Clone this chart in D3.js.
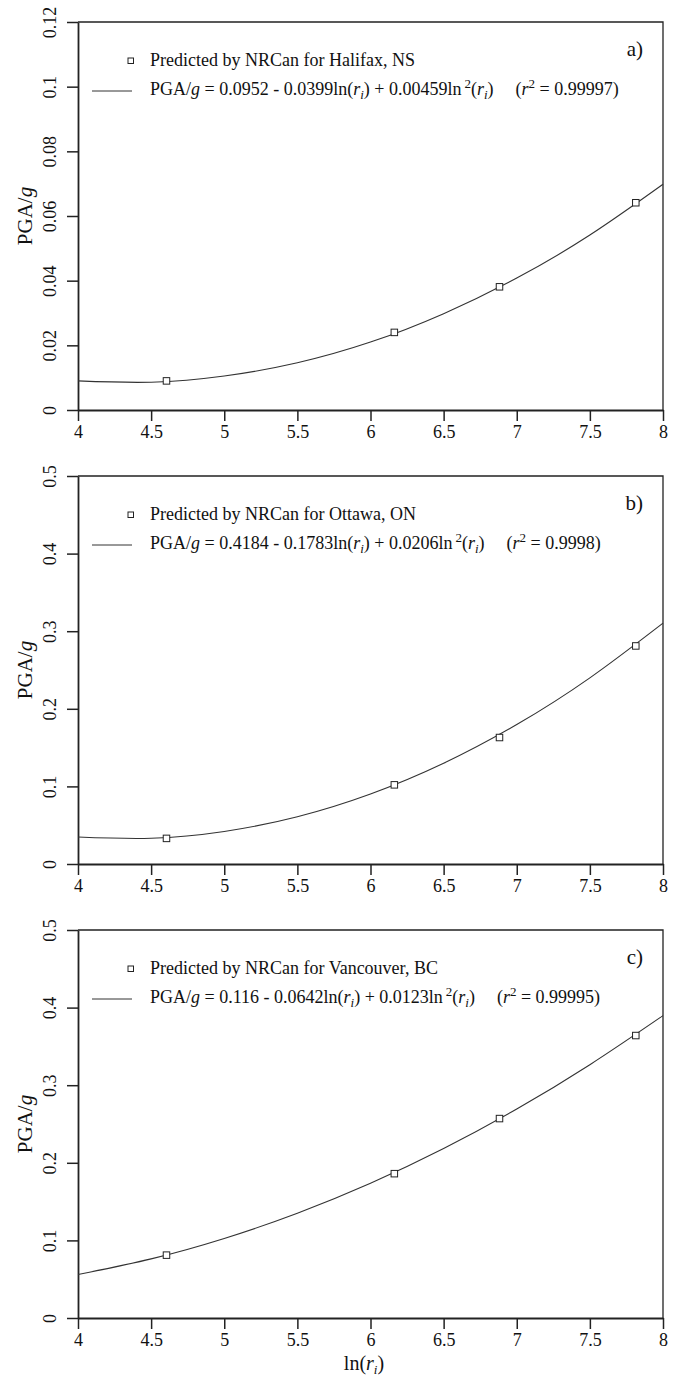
<!DOCTYPE html>
<html>
<head>
<meta charset="utf-8">
<script src="https://cdn.jsdelivr.net/npm/d3@7"></script>
<style>
  html, body { margin: 0; padding: 0; background: #fff; }
  svg text { font-family: "Liberation Serif", "Times New Roman", serif; fill: #111; }
</style>
</head>
<body>
<div id="chart"></div>
<script>
// ---- data ----
const lnR = [4.605, 6.163, 6.882, 7.814];
const pgaHalifax   = [0.0090, 0.0240, 0.0381, 0.0641];
const pgaOttawa    = [0.0330, 0.1020, 0.1630, 0.2810];
const pgaVancouver = [0.0810, 0.1860, 0.2570, 0.3640];

// fitted curves
const curveX = [4, 4.5, 5, 5.5, 6, 6.5, 7, 7.5, 8];
const fitHalifax   = [0.0090, 0.0086, 0.0105, 0.0146, 0.0210, 0.0298, 0.0408, 0.0541, 0.0698];
const fitOttawa    = [0.0348, 0.0332, 0.0419, 0.0609, 0.0902, 0.1298, 0.1797, 0.2399, 0.3104];
const fitVancouver = [0.0560, 0.0762, 0.1025, 0.1350, 0.1736, 0.2184, 0.2693, 0.3264, 0.3896];

const xTicks = [4, 4.5, 5, 5.5, 6, 6.5, 7, 7.5, 8];
const yTicksA = [0, 0.02, 0.04, 0.06, 0.08, 0.1, 0.12];
const yTicksBC = [0, 0.1, 0.2, 0.3, 0.4, 0.5];

const cities = ["Halifax, NS", "Ottawa, ON", "Vancouver, BC"];
const tags = ["a)", "b)", "c)"];
const fitConst = ["0.0952", "0.4184", "0.116"];
const fitLin   = ["0.0399", "0.1783", "0.0642"];
const fitQuad  = ["0.00459", "0.0206", "0.0123"];
const fitR2    = ["0.99997", "0.9998", "0.99995"];

// ---- layout ----
const W = 675, H = 1378;
const xLeft = 78, xRight = 663;
const panels = [
  { top: 22,  bottom: 410,  ymax: 0.12, ticks: yTicksA,  pts: pgaHalifax,   fit: fitHalifax },
  { top: 476, bottom: 864,  ymax: 0.5,  ticks: yTicksBC, pts: pgaOttawa,    fit: fitOttawa },
  { top: 930, bottom: 1318, ymax: 0.5,  ticks: yTicksBC, pts: pgaVancouver, fit: fitVancouver }
];

const svg = d3.select("#chart").append("svg")
  .attr("width", W).attr("height", H)
  .attr("viewBox", `0 0 ${W} ${H}`);

const x = d3.scaleLinear().domain([4, 8]).range([xLeft, xRight]);

// writes a run of segments (italic / sub / sup) into a text element
function richText(sel, segs, subSize) {
  let shift = 0;
  segs.forEach(s => {
    const want = s.sub ? 4 : s.sup ? -7 : 0;
    const t = sel.append("tspan").text(s.t);
    if (want !== shift) { t.attr("dy", want - shift); shift = want; }
    if (s.i) t.attr("font-style", "italic");
    if (s.sub || s.sup) t.attr("font-size", subSize);
    if (s.dx) t.attr("dx", s.dx);
  });
}

panels.forEach((p, k) => {
  const y = d3.scaleLinear().domain([0, p.ymax]).range([p.bottom, p.top]);
  const g = svg.append("g");

  // frame top + right
  g.append("path")
    .attr("d", `M${xLeft},${p.top}H${xRight}V${p.bottom}`)
    .attr("fill", "none").attr("stroke", "#222").attr("stroke-width", 1.3);

  // axes
  const ax = g.append("g")
    .attr("transform", `translate(0,${p.bottom})`)
    .call(d3.axisBottom(x).tickValues(xTicks).tickSize(11).tickSizeOuter(0)
      .tickFormat(d3.format("")));
  const ay = g.append("g")
    .attr("transform", `translate(${xLeft},0)`)
    .call(d3.axisLeft(y).tickValues(p.ticks).tickSize(11).tickSizeOuter(0)
      .tickFormat(d => d3.format("")(+d.toFixed(2))));

  [ax, ay].forEach(a => {
    a.select(".domain").attr("stroke", "#222").attr("stroke-width", 1.8);
    a.selectAll(".tick line").attr("stroke", "#222").attr("stroke-width", 1.5);
    a.selectAll("text").attr("font-size", 18).attr("fill", "#111")
      .style("font-family", '"Liberation Serif", "Times New Roman", serif');
  });
  ax.selectAll("text").attr("y", 28).attr("dy", 0);
  ay.selectAll("text")
    .attr("x", 0).attr("y", -22).attr("dy", 0)
    .attr("text-anchor", "middle")
    .attr("transform", "rotate(-90)");

  // y label
  const yl = g.append("text")
    .attr("transform", `translate(32,${(p.top + p.bottom) / 2}) rotate(-90)`)
    .attr("text-anchor", "middle").attr("font-size", 21);
  richText(yl, [{ t: "PGA/" }, { t: "g", i: 1 }], 14);

  // fitted curve
  const line = d3.line()
    .x(d => x(d[0])).y(d => y(d[1]))
    .curve(d3.curveNatural);
  g.append("path")
    .datum(curveX.map((v, i) => [v, p.fit[i]]))
    .attr("d", line)
    .attr("fill", "none").attr("stroke", "#333").attr("stroke-width", 1.1);

  // points
  g.selectAll("rect.pt")
    .data(lnR.map((v, i) => [v, p.pts[i]]))
    .join("rect").attr("class", "pt")
    .attr("x", d => x(d[0]) - 3.25).attr("y", d => y(d[1]) - 3.25)
    .attr("width", 6.5).attr("height", 6.5)
    .attr("fill", "#fff").attr("stroke", "#222").attr("stroke-width", 1);

  // legend
  const ly = p.top;
  g.append("rect")
    .attr("x", 128).attr("y", ly + 36).attr("width", 5.5).attr("height", 5.5)
    .attr("fill", "#fff").attr("stroke", "#222").attr("stroke-width", 1);
  g.append("text")
    .attr("x", 150).attr("y", ly + 44).attr("font-size", 18)
    .text("Predicted by NRCan for " + cities[k]);
  g.append("line")
    .attr("x1", 92).attr("x2", 132).attr("y1", ly + 69).attr("y2", ly + 69)
    .attr("stroke", "#333").attr("stroke-width", 1);
  const eq = g.append("text")
    .attr("x", 150).attr("y", ly + 73).attr("font-size", 18);
  richText(eq, [
    { t: "PGA/" }, { t: "g", i: 1 },
    { t: ` = ${fitConst[k]} - ${fitLin[k]}ln(` }, { t: "r", i: 1 }, { t: "i", i: 1, sub: 1 },
    { t: `) + ${fitQuad[k]}ln` }, { t: "2", sup: 1, dx: 3 }, { t: "(" }, { t: "r", i: 1 },
    { t: "i", i: 1, sub: 1 }, { t: ")" },
    { t: "(", dx: 22 }, { t: "r", i: 1 }, { t: "2", sup: 1 }, { t: ` = ${fitR2[k]})` }
  ], 13);

  g.append("text")
    .attr("x", 643).attr("y", ly + 34).attr("text-anchor", "end")
    .attr("font-size", 21).text(tags[k]);
});

// x label
const xl = svg.append("text")
  .attr("x", 364).attr("y", 1370)
  .attr("text-anchor", "middle").attr("font-size", 20);
richText(xl, [{ t: "ln(" }, { t: "r", i: 1 }, { t: "i", i: 1, sub: 1 }, { t: ")" }], 13);
</script>
</body>
</html>
